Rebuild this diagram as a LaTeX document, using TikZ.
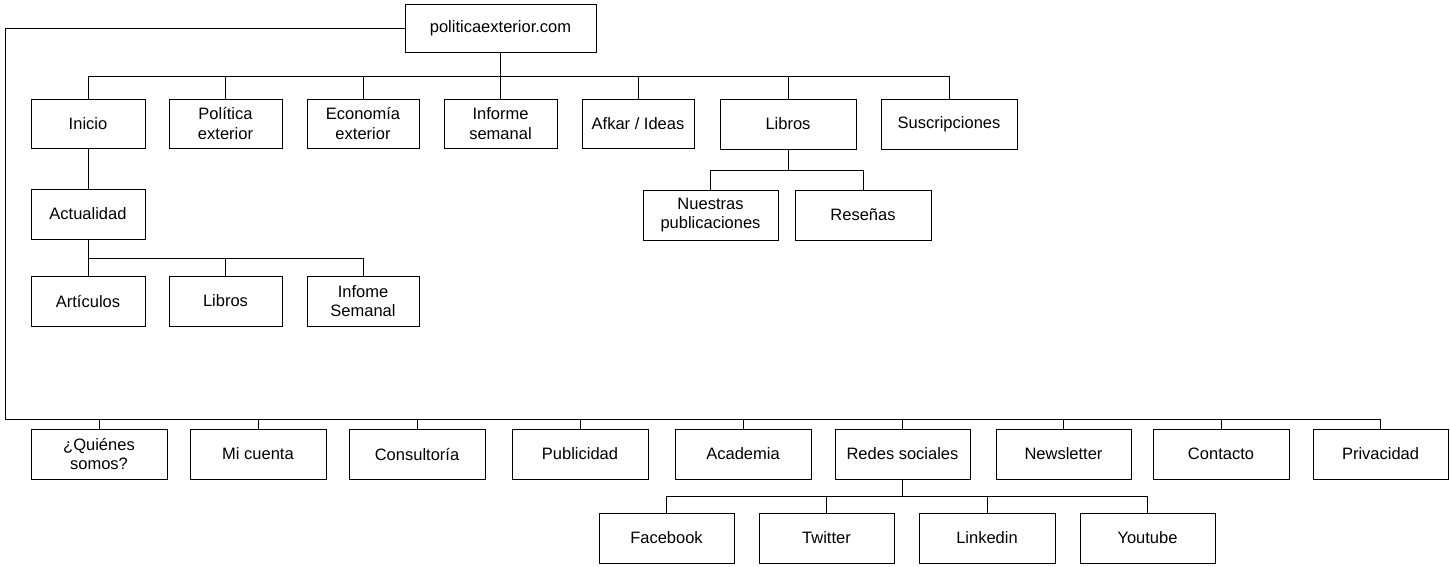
\documentclass[tikz,border=0pt]{standalone}
\usepackage{fontspec}
\setmainfont{Liberation Sans}
\begin{document}
\begin{tikzpicture}[x=1pt,y=-1pt,line width=0.9pt,
  box/.style={draw,minimum width=#1,minimum height=50pt,inner sep=0pt,align=center,font=\fontsize{16.5}{19.5}\selectfont},
  box/.default=136pt]
\useasboundingbox (0,0) rectangle (1450,566);
% root
\node[box=191pt,minimum height=48pt] (root) at (500.5,28) {politicaexterior.com};
% row 1
\node[box=114pt,minimum height=49pt] (inicio) at (88,123.5) {Inicio};
\node[box=113pt,minimum height=49pt] (pol) at (225.5,123.5) {Política\\exterior};
\node[box=112pt,minimum height=49pt] (eco) at (363,123.5) {Economía\\exterior};
\node[box=113pt,minimum height=49pt] (inf) at (500.5,123.5) {Informe\\semanal};
\node[box=112pt,minimum height=49pt] (afkar) at (638,123.5) {Afkar / Ideas};
\node[box] (libros) at (788,124) {Libros};
\node[box] (susc) at (949,124) {Suscripciones};
% Inicio subtree
\node[box=114pt] (actu) at (88,214) {Actualidad};
\node[box=114pt] (art) at (88,301) {Artículos};
\node[box=113pt] (lib2) at (225.5,301) {Libros};
\node[box=112pt] (infs) at (363,301) {Infome\\Semanal};
% Libros subtree
\node[box=135pt] (nues) at (710.5,215) {Nuestras\\publicaciones};
\node[box] (res) at (863,215) {Reseñas};
% bottom row
\node[box] (quien) at (99,454) {¿Quiénes\\somos?};
\node[box] (micu) at (258,454) {Mi cuenta};
\node[box] (cons) at (417,454) {Consultoría};
\node[box] (publ) at (580,454) {Publicidad};
\node[box] (acad) at (743,454) {Academia};
\node[box=135pt] (redes) at (902.5,454) {Redes sociales};
\node[box=135pt] (news) at (1063.5,454) {Newsletter};
\node[box] (cont) at (1221,454) {Contacto};
\node[box=135pt] (priv) at (1380.5,454) {Privacidad};
% social
\node[box=135pt] (fb) at (666.5,538) {Facebook};
\node[box=135pt] (tw) at (826.5,538) {Twitter};
\node[box] (li) at (987,538) {Linkedin};
\node[box=135pt] (yt) at (1147.5,538) {Youtube};
% connectors row 1
\coordinate (b1) at (500.5,76);
\draw (root.south) -- (b1);
\foreach \c in {inicio,pol,eco,inf,afkar,libros,susc} \draw (b1) -| (\c.north);
% Inicio subtree
\draw (inicio.south) -- (actu.north);
\coordinate (b2) at (88,258);
\draw (actu.south) -- (b2);
\foreach \c in {art,lib2,infs} \draw (b2) -| (\c.north);
% Libros subtree
\coordinate (b3) at (788,170);
\draw (libros.south) -- (b3);
\foreach \c in {nues,res} \draw (b3) -| (\c.north);
% bottom row
\coordinate (b4) at (5,419);
\draw (root.west) -| (b4);
\foreach \c in {quien,micu,cons,publ,acad,redes,news,cont,priv} \draw (b4) -| (\c.north);
% social
\coordinate (b5) at (902.5,496);
\draw (redes.south) -- (b5);
\foreach \c in {fb,tw,li,yt} \draw (b5) -| (\c.north);
\end{tikzpicture}
\end{document}
